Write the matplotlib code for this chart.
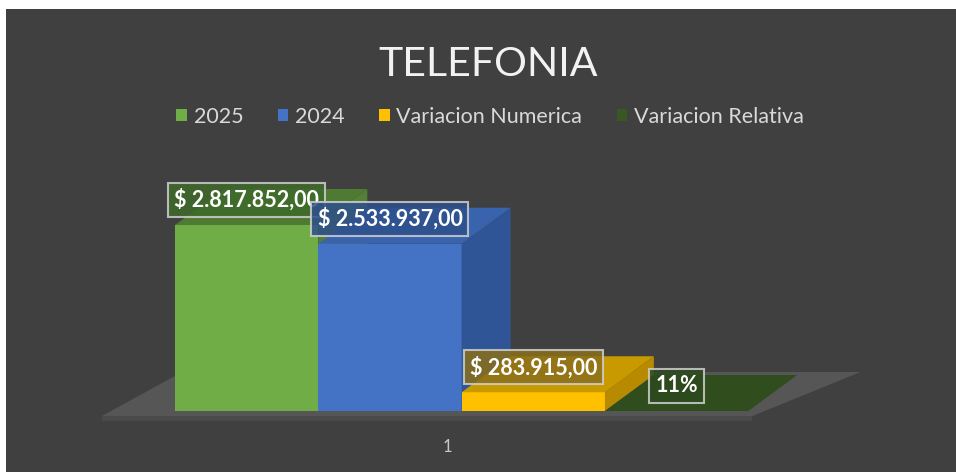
import matplotlib
matplotlib.use("Agg")
import matplotlib.pyplot as plt
from matplotlib.patches import Rectangle, Polygon, Patch

plt.rcParams["font.family"] = ["Lato", "DejaVu Sans"]

# data
series = ["2025", "2024", "Variacion Numerica", "Variacion Relativa"]
values = [2817852.00, 2533937.00, 283915.00, 0.11]
labels = ["$ 2.817.852,00", "$ 2.533.937,00", "$ 283.915,00", "11%"]
category = "1"
title = "TELEFONIA"

front_colors = ["#70AD47", "#4472C4", "#FFC000", "#385723"]
top_colors = ["#4E7A32", "#3A63AD", "#C99A00", "#2F4D1D"]
side_colors = ["#557F37", "#2F5597", "#B88A00", "#2A461A"]
label_faces = ["#3E6A2A", "#2E4F8C", "#8A6E1A", "#2C4A1E"]

W, H = 956, 472
fig = plt.figure(figsize=(W / 100, H / 100), dpi=100)
fig.patch.set_facecolor("white")
fig.add_artist(Rectangle((6 / W, 0), 1, (H - 9) / H, transform=fig.transFigure,
                         facecolor="#404040", edgecolor="none", zorder=0))

ax = fig.add_axes([0, 0, 1, 1])
ax.set_facecolor("none")
ax.axis("off")

# pixel scale of the plot area
px_x = 143.3                     # pixels per bar
px_y = max(values) / 186.0       # value per pixel
x0_px, base_px = 175, 61
ax.set_xlim(-x0_px / px_x, (W - x0_px) / px_x)
ax.set_ylim(-base_px * px_y, (H - base_px) * px_y)

dx = 49 / px_x      # depth offset
dy = 36 * px_y

n = len(values)

# floor
ax.add_patch(Polygon([(-0.51, -5 * px_y), (n + 0.03, -5 * px_y),
                      (n + 0.03 + 108 / px_x, 39 * px_y), (0.05, 39 * px_y)],
                     closed=True, facecolor="#565656", edgecolor="none", zorder=1))
ax.add_patch(Polygon([(-0.51, -5 * px_y), (n + 0.03, -5 * px_y),
                      (n + 0.03, -10 * px_y), (-0.51, -10 * px_y)],
                     closed=True, facecolor="#4a4a4a", edgecolor="none", zorder=1))

for i, v in enumerate(values):
    z = 2 + i
    ax.add_patch(Rectangle((i, 0), 1, v, facecolor=front_colors[i],
                           edgecolor="none", zorder=z))
    ax.add_patch(Polygon([(i + 1, 0), (i + 1 + dx, dy), (i + 1 + dx, v + dy), (i + 1, v)],
                         closed=True, facecolor=side_colors[i], edgecolor="none", zorder=z))
    ax.add_patch(Polygon([(i, v), (i + 1, v), (i + 1 + dx, v + dy), (i + dx, v + dy)],
                         closed=True, facecolor=top_colors[i], edgecolor="none", zorder=z))

for i, v in enumerate(values):
    ax.annotate(labels[i], xy=(i + 0.5, v), xytext=(0, 25), textcoords="offset pixels",
                ha="center", va="center", color="white", fontsize=15.5,
                fontweight="bold", zorder=10,
                bbox=dict(boxstyle="square,pad=0.28", facecolor=label_faces[i],
                          alpha=0.85, edgecolor="#cfcfcf", linewidth=1.5))

ax.text(n / 2 - 0.1, -36 * px_y, category, ha="center", va="center",
        color="#c8c8c8", fontsize=12)

fig.text(488 / W, 1 - 65 / H, title, ha="center", va="center",
         color="#f2f2f2", fontsize=29.5)

handles = [Patch(facecolor=c, edgecolor="none") for c in front_colors]
leg = fig.legend(handles, series, loc="center", bbox_to_anchor=(490 / W, 1 - 117 / H),
                 ncol=4, frameon=False, fontsize=15.5, handlelength=0.5,
                 handleheight=0.5, handletextpad=0.3, columnspacing=1.6)
for t in leg.get_texts():
    t.set_color("#d9d9d9")

fig.savefig("out.png", dpi=100, facecolor=fig.get_facecolor())
